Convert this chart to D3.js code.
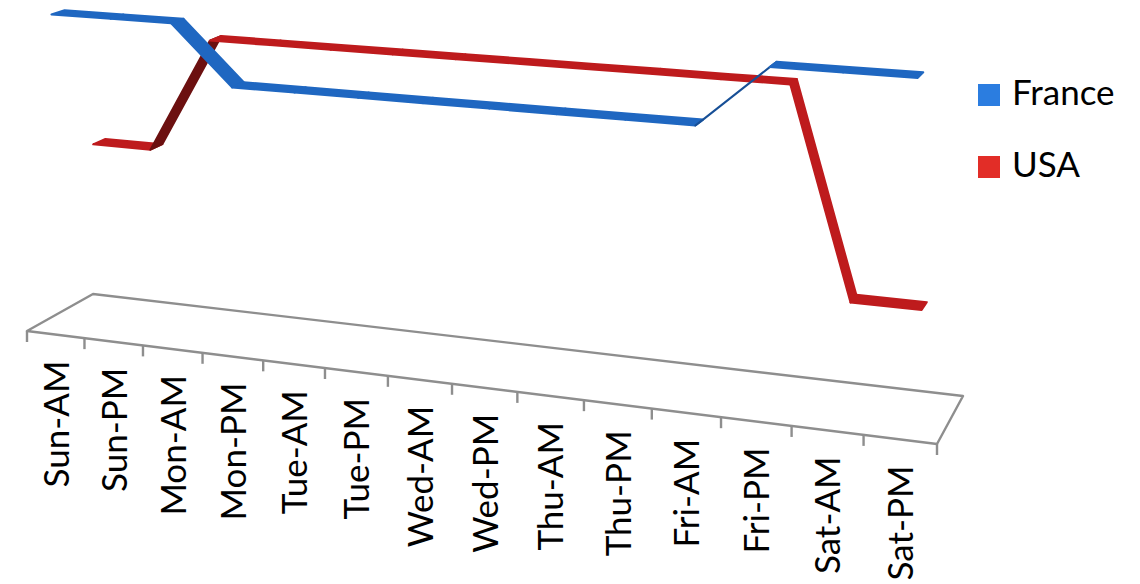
<!DOCTYPE html>
<html>
<head>
<meta charset="utf-8">
<script src="https://cdn.jsdelivr.net/npm/d3@7"></script>
<style>
  html, body { margin: 0; padding: 0; background: #fff; }
  svg { display: block; }
  text { font-family: Lato, "Liberation Sans", Arial, sans-serif; fill: #000; }
</style>
</head>
<body>
<svg id="chart" width="1140" height="584"></svg>
<script>
// ---------- data ----------
const categories = ["Sun-AM","Sun-PM","Mon-AM","Mon-PM","Tue-AM","Tue-PM","Wed-AM","Wed-PM",
                    "Thu-AM","Thu-PM","Fri-AM","Fri-PM","Sat-AM","Sat-PM"];
const seriesNames = ["France", "USA"];
const franceValues = [10, 10, 10, 8.2, 8.2, 8.2, 8.2, 8.2, 8.2, 8.2, 8.2, 10, 10, 10];
const usaValues    = [5.4, 5.4, 9, 9, 9, 9, 9, 9, 9, 9, 9, 9, 2.9, 2.9];

// ---------- 3D floor geometry (screen corners of the plot floor) ----------
const svg = d3.select("#chart");

const P00 = [27, 331], P10 = [937, 444], P11 = [963, 396], P01 = [93, 294];
// square -> quad homography (Heckbert)
const dx1 = P10[0]-P11[0], dx2 = P01[0]-P11[0], dx3 = P00[0]-P10[0]+P11[0]-P01[0];
const dy1 = P10[1]-P11[1], dy2 = P01[1]-P11[1], dy3 = P00[1]-P10[1]+P11[1]-P01[1];
const den = dx1*dy2 - dx2*dy1;
const hg = (dx3*dy2 - dx2*dy3)/den, hh = (dx1*dy3 - dx3*dy1)/den;
const ha = P10[0]-P00[0] + hg*P10[0], hb = P01[0]-P00[0] + hh*P01[0], hc = P00[0];
const hd = P10[1]-P00[1] + hg*P10[1], he = P01[1]-P00[1] + hh*P01[1], hf = P00[1];

// ---------- scales ----------
const xBand = d3.scaleBand().domain(categories).range([0, 1]).padding(0);
const uOf = c => xBand(c) + xBand.bandwidth()/2;
const yScale = d3.scaleLinear().domain([0, 10]).range([0, 320]);

const leanX = 55, leanD = 15800;
function proj(u, v, val) {
  const w = hg*u + hh*v + 1;
  const xf = (ha*u + hb*v + hc)/w, yf = (hd*u + he*v + hf)/w;
  const hp = yScale(val)/w;
  return [xf + (xf - leanX)*hp/leanD, yf - hp];
}

// ---------- floor ----------
const floorPts = [[0,0],[1,0],[1,1],[0,1]].map(([u,v]) => proj(u, v, 0));
svg.append("path")
  .attr("d", d3.line()(floorPts) + "Z")
  .attr("fill", "#fff")
  .attr("stroke", "#8e8e8e")
  .attr("stroke-width", 2.4)
  .attr("stroke-linejoin", "round");

// tick marks on front edge
const tickU = d3.range(categories.length + 1).map(i => i / categories.length);
svg.append("g").selectAll("line").data(tickU).join("line")
  .attr("x1", u => proj(u,0,0)[0]).attr("x2", u => proj(u,0,0)[0])
  .attr("y1", u => proj(u,0,0)[1]).attr("y2", u => proj(u,0,0)[1] + 11)
  .attr("stroke", "#8e8e8e").attr("stroke-width", 2.4);

// category labels
svg.append("g").selectAll("text").data(categories).join("text")
  .attr("transform", c => {
    const p = proj(uOf(c), 0, 0);
    return `translate(${p[0] + 13},${p[1] + 26}) rotate(-90)`;
  })
  .attr("text-anchor", "end")
  .attr("font-size", 35)
  .text(c => c);

// ---------- ribbons ----------
const ribbonDepth = {France: [-0.06, 0.13], USA: [0.56, 0.75]};
const colors = {
  France: {top: "#1f67c1", under: "#174f96", legend: "#2b7de0"},
  USA:    {top: "#be1b1d", under: "#6c1010", legend: "#e22d27"}
};

function drawRibbon(name, values) {
  const [v1, v2] = ribbonDepth[name];
  const g = svg.append("g");
  const segs = d3.range(values.length - 1).map(i => {
    const ua = uOf(categories[i]), ub = uOf(categories[i+1]);
    const p0 = proj(ua, v1, values[i]), p1 = proj(ub, v1, values[i+1]);
    const p2 = proj(ub, v2, values[i+1]), p3 = proj(ua, v2, values[i]);
    const cross = (p1[0]-p0[0])*(p3[1]-p0[1]) - (p1[1]-p0[1])*(p3[0]-p0[0]);
    return {pts: [p0, p1, p2, p3], under: cross > 0};
  });
  g.selectAll("path").data(segs).join("path")
    .attr("d", s => d3.line()(s.pts) + "Z")
    .attr("fill", s => s.under ? colors[name].under : colors[name].top)
    .attr("stroke", s => s.under ? colors[name].under : colors[name].top)
    .attr("stroke-width", 2)
    .attr("stroke-linejoin", "round");
}
drawRibbon("USA", usaValues);
drawRibbon("France", franceValues);

// ---------- legend ----------
const legend = svg.append("g");
const legendY = d3.scalePoint().domain(seriesNames).range([84, 156]);
legend.selectAll("rect").data(seriesNames).join("rect")
  .attr("x", 978).attr("y", d => legendY(d)).attr("width", 22).attr("height", 22)
  .attr("fill", d => colors[d].legend);
legend.selectAll("text").data(seriesNames).join("text")
  .attr("x", 1012).attr("y", d => legendY(d) + 21)
  .attr("font-size", 35)
  .text(d => d);
</script>
</body>
</html>
